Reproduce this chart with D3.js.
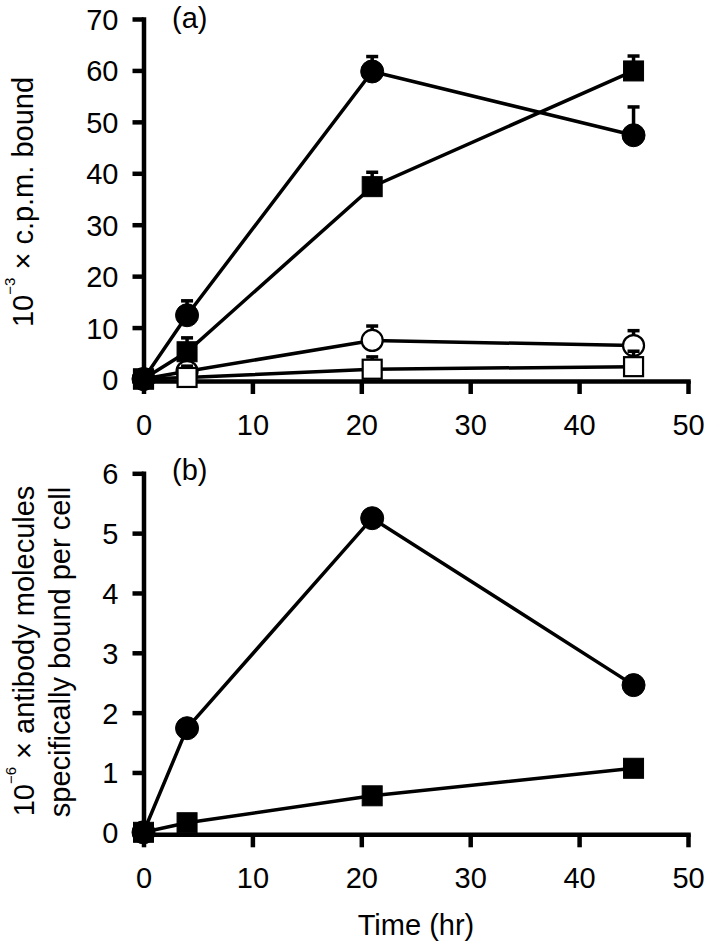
<!DOCTYPE html>
<html><head><meta charset="utf-8">
<script src="https://cdn.jsdelivr.net/npm/d3@7"></script>
<style>
body{margin:0;background:#fff;}
svg text{font-family:"Liberation Sans",Arial,Helvetica,sans-serif;fill:#000;}
</style></head>
<body><svg id="c" width="712" height="949"></svg>
<script>
// ---- data ----
const times = [0, 4, 21, 45];
const xTicks = [0, 10, 20, 30, 40, 50];
const yTicksA = [0, 10, 20, 30, 40, 50, 60, 70];
const yTicksB = [0, 1, 2, 3, 4, 5, 6];

// panel (a): 10^-3 x c.p.m. bound, with upper error
const aFilledCircle = [0, 12.4, 59.8, 47.4];
const aFilledCircleErr = [0, 15.2, 62.7, 52.9];
const aFilledSquare = [0, 5.3, 37.4, 59.9];
const aFilledSquareErr = [0, 8.0, 40.2, 62.8];
const aOpenCircle = [0, 1.5, 7.5, 6.5];
const aOpenCircleErr = [0, 1.5, 10.3, 9.4];
const aOpenSquare = [0, 0.3, 1.9, 2.4];
const aOpenSquareErr = [0, 2.5, 4.3, 5.4];

// panel (b): 10^-6 x antibody molecules specifically bound per cell
const bFilledCircle = [0, 1.74, 5.25, 2.46];
const bFilledSquare = [0, 0.16, 0.61, 1.07];

const FS = 29;
const svg = d3.select("#c");

function panel(cfg){
  const x = d3.scaleLinear().domain([0,50]).range([143.5, 688]);
  const y = d3.scaleLinear().domain([0, cfg.ymax]).range([cfg.y0, cfg.ytop]);
  const g = svg.append("g");
  const xa = g.append("g").attr("transform",`translate(0,${cfg.y0+2})`)
    .call(d3.axisBottom(x).tickValues(xTicks).tickFormat(d3.format("d")).tickSize(13).tickSizeOuter(0).tickPadding(20));
  const ya = g.append("g").attr("transform",`translate(143.5,0)`)
    .call(d3.axisLeft(y).tickValues(cfg.yticks).tickFormat(d3.format("d")).tickSize(11).tickSizeOuter(0).tickPadding(14));
  [xa,ya].forEach(a=>{
    a.attr("font-size",FS).attr("font-family","Liberation Sans, Arial, sans-serif");
    a.selectAll("path.domain").attr("stroke","#000").attr("stroke-width",4.5).attr("stroke-linecap","square");
    a.selectAll(".tick line").attr("stroke","#000").attr("stroke-width",4.5);
    a.selectAll(".tick text").attr("font-size",FS).attr("fill","#000");
  });
  xa.selectAll(".tick text").attr("dy","0.71em");
  ya.selectAll(".tick text").attr("dy","0.36em");
  g.append("text").attr("x",172).attr("y",cfg.ytop+cfg.labdy).attr("font-size",FS).text(cfg.label);

  const line = d3.line().x((d,i)=>x(times[i])).y(d=>y(d));
  cfg.series.forEach(s=>{
    g.append("path").datum(s.v).attr("d",line).attr("fill","none").attr("stroke","#000").attr("stroke-width",3.5);
  });
  cfg.series.forEach(s=>{
    const sg = g.append("g");
    if(s.err){
      s.v.forEach((v,i)=>{
        if(s.err[i] > v + 0.01){
          sg.append("line").attr("x1",x(times[i])).attr("x2",x(times[i]))
            .attr("y1",y(v)).attr("y2",y(s.err[i])).attr("stroke","#000").attr("stroke-width",3.5);
          sg.append("line").attr("x1",x(times[i])-6).attr("x2",x(times[i])+6)
            .attr("y1",y(s.err[i])).attr("y2",y(s.err[i])).attr("stroke","#000").attr("stroke-width",3.5);
        }
      });
    }
    s.v.forEach((v,i)=>{
      const cx = x(times[i]), cy = y(v);
      if(s.shape==="circle"){
        sg.append("circle").attr("cx",cx).attr("cy",cy).attr("r",s.filled?11.5:10.5)
          .attr("fill",s.filled?"#000":"#fff").attr("stroke","#000").attr("stroke-width",s.filled?1:2.2);
      } else {
        const h = s.filled?10:9.5;
        sg.append("rect").attr("x",cx-h).attr("y",cy-h).attr("width",2*h).attr("height",2*h)
          .attr("fill",s.filled?"#000":"#fff").attr("stroke","#000").attr("stroke-width",s.filled?1:2.2);
      }
    });
  });
  return g;
}

panel({ymax:70, y0:379, ytop:19, yticks:yTicksA, label:"(a)", labdy:9,
  series:[
    {v:aOpenCircle, err:aOpenCircleErr, shape:"circle", filled:false},
    {v:aOpenSquare, err:aOpenSquareErr, shape:"square", filled:false},
    {v:aFilledSquare, err:aFilledSquareErr, shape:"square", filled:true},
    {v:aFilledCircle, err:aFilledCircleErr, shape:"circle", filled:true}
  ]});

panel({ymax:6, y0:832.3, ytop:473.3, yticks:yTicksB, label:"(b)", labdy:7,
  series:[
    {v:bFilledSquare, shape:"square", filled:true},
    {v:bFilledCircle, shape:"circle", filled:true}
  ]});

// axis titles
const t1 = svg.append("text").attr("transform","translate(33,202) rotate(-90)")
  .attr("text-anchor","middle").attr("font-size",FS);
t1.append("tspan").text("10");
t1.append("tspan").attr("dy",-18).attr("font-size",15).text("−3");
t1.append("tspan").attr("dy",18).text(" × c.p.m. bound");

const t2 = svg.append("text").attr("transform","translate(34,651) rotate(-90)")
  .attr("text-anchor","middle").attr("font-size",FS);
t2.append("tspan").text("10");
t2.append("tspan").attr("dy",-18).attr("font-size",15).text("−6");
t2.append("tspan").attr("dy",18).text(" × antibody molecules");
svg.append("text").attr("transform","translate(70,652) rotate(-90)")
  .attr("text-anchor","middle").attr("font-size",FS).text("specifically bound per cell");

svg.append("text").attr("x",416).attr("y",935).attr("text-anchor","middle").attr("font-size",FS).text("Time (hr)");
</script></body></html>
